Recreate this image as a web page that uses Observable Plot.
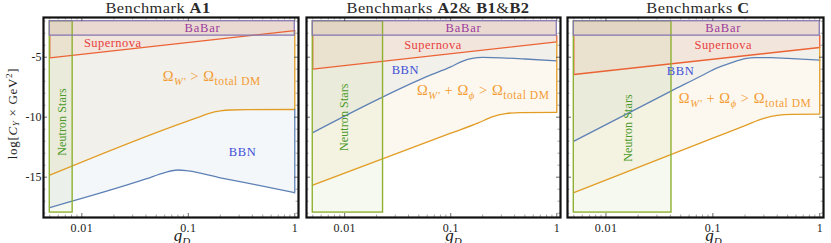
<!DOCTYPE html>
<html><head><meta charset="utf-8">
<script src="https://cdn.jsdelivr.net/npm/d3@7"></script>
<script src="https://cdn.jsdelivr.net/npm/@observablehq/plot@0.6"></script>
<style>
body{margin:0;background:#fff;}
#wrap{position:relative;width:831px;height:243px;overflow:hidden;font-family:"Liberation Serif",serif;}
.panel{position:absolute;top:0;}
.title{position:absolute;top:0px;font-size:14.5px;line-height:16px;white-space:nowrap;transform:translateX(-50%) scaleX(1.13);letter-spacing:0.4px;color:#2a2a2a;font-weight:normal;}
.title b{font-weight:bold;}
</style></head><body><div id="wrap"></div>
<script>
// ---------- data ----------
const xTickVals = [0.01, 0.1, 1];
const xTickLabels = ["0.01", "0.1", "1"];
const xMinorTicks = [0.005, 0.006, 0.007, 0.008, 0.009, 0.02, 0.03, 0.04, 0.05, 0.06, 0.07, 0.08, 0.09, 0.2, 0.3, 0.4, 0.5, 0.6, 0.7, 0.8, 0.9];
const yTickVals = [-5, -10, -15];
const yTickLabels = ["-5", "-10", "-15"];
const yMinorTicks = [-2, -3, -4, -6, -7, -8, -9, -11, -12, -13, -14, -16, -17, -18];

const babarG = [0.005, 1];
const babarY = [-3.2, -2];

// Benchmark A1
const a1SnG = [0.005, 1];
const a1SnY = [-5.05, -2.78];
const a1OmG = [0.005, 0.1, 0.13, 0.16, 0.2, 0.25, 0.35, 1];
const a1OmY = [-14.83, -10.3, -9.95, -9.65, -9.48, -9.4, -9.37, -9.36];
const a1BbG = [0.005, 0.04, 0.06, 0.08, 0.1, 0.2, 0.5, 1];
const a1BbY = [-17.53, -15.15, -14.62, -14.4, -14.48, -15.05, -15.75, -16.3];
const a1NsG = [0.005, 0.0082];
const a1NsY = [-17.95, -2];

// Benchmarks A2 & B1 & B2
const a2SnG = [0.005, 1];
const a2SnY = [-6.0, -3.72];
const a2OmG = [0.005, 0.1, 0.18, 0.25, 0.32, 0.45, 1];
const a2OmY = [-15.67, -11.33, -10.5, -9.95, -9.72, -9.62, -9.6];
const a2BbG = [0.005, 0.023, 0.06, 0.1, 0.13, 0.16, 0.2, 0.3, 0.5, 1];
const a2BbY = [-11.28, -8.3, -6.6, -5.8, -5.32, -5.1, -5.02, -5.05, -5.15, -5.3];
const a2NsG = [0.005, 0.023];
const a2NsY = [-17.95, -2];

// Benchmarks C
const cSnG = [0.005, 1];
const cSnY = [-6.44, -4.19];
const cOmG = [0.005, 0.1, 0.2, 0.3, 0.4, 0.55, 1];
const cOmY = [-16.28, -11.75, -10.7, -10.1, -9.85, -9.77, -9.75];
const cBbG = [0.005, 0.041, 0.08, 0.1, 0.15, 0.2, 0.25, 0.35, 0.5, 1];
const cBbY = [-12.0, -7.8, -6.5, -6.05, -5.45, -5.12, -5.03, -5.04, -5.1, -5.25];
const cNsG = [0.005, 0.041];
const cNsY = [-17.95, -2];

// ---------- layout / style ----------
const xDomain = [Math.pow(10, -2.36), Math.pow(10, 0.035)];
const yDomain = [-18.36, -1.69];
const H = 243, mT = 17, mB = 26;
const C = {blue: "#5E81B5", orange: "#E19C24", red: "#EB6235", green: "#8FB032", purple: "#8778B3",
  tBabar: "#9a3a9e", tSn: "#e8413c", tOm: "#f39c34", tBbn: "#3e4fd6", tNs: "#4c9a2a"};
const spacing = {BaBar: 0.8, Supernova: 0.45, BBN: 0.6, "Neutron Stars": 0.1, OMEGALABEL: 0.55, YLABEL: 0.7, "0.01": 0.4, "0.1": 0.4};

const panels = [
  {left: 0, width: 300, mL: 43, mR: 2, title: "Benchmark <b>A1</b>", titleX: 158, yAxis: true,
   sn: [a1SnG, a1SnY], om: [a1OmG, a1OmY], bb: [a1BbG, a1BbY], ns: [a1NsG, a1NsY],
   lab: {babar: [0.136, -2.6], sn: [0.0195, -3.8], bbn: [0.323, -12.9], ns: [0.0066, -10.4], om: [0.0575, -6.6]},
   omKind: 1, gdx: 11},
  {left: 302, width: 260, mL: 4, mR: 2, title: "Benchmarks <b>A2</b>&amp; <b>B1</b>&amp;<b>B2</b>", titleX: 437.5, yAxis: false,
   sn: [a2SnG, a2SnY], om: [a2OmG, a2OmY], bb: [a2BbG, a2BbY], ns: [a2NsG, a2NsY],
   lab: {babar: [0.132, -2.6], sn: [0.068, -3.95], bbn: [0.0374, -6.1], ns: [0.0098, -10.0], om: [0.048, -7.8]},
   omKind: 2, gdx: 20},
  {left: 563, width: 268, mL: 4, mR: 8, title: "Benchmarks <b>C</b>", titleX: 698, yAxis: false,
   sn: [cSnG, cSnY], om: [cOmG, cOmY], bb: [cBbG, cBbY], ns: [cNsG, cNsY],
   lab: {babar: [0.125, -2.6], sn: [0.125, -3.95], bbn: [0.0498, -6.17], ns: [0.0162, -10.9], om: [0.048, -8.45]},
   omKind: 2, gdx: 18}
];

const wrap = document.getElementById("wrap");
const pts = ([g, y]) => g.map((v, i) => ({g: v, y: y[i]}));
const last = a => a[a.length - 1];

function makePanel(p) {
  const fw = p.width - p.mL - p.mR, fh = H - mT - mB;
  const sn = pts(p.sn), om = pts(p.om), bb = pts(p.bb);
  const topY = babarY[1];
  const snEnd = last(p.sn[1]), omEnd = last(p.om[1]), bbEnd = last(p.bb[1]);
  const xr = last(babarG), xl = babarG[0];
  const marks = [
    Plot.areaY(bb, {x: "g", y1: "y", y2: () => topY, fill: C.blue, fillOpacity: 0.065, curve: "monotone-x"}),
    Plot.areaY(om, {x: "g", y1: "y", y2: () => topY, fill: C.orange, fillOpacity: 0.075, curve: "monotone-x"}),
    Plot.areaY(sn, {x: "g", y1: "y", y2: () => topY, fill: C.red, fillOpacity: 0.075}),
    Plot.rect([0], {x1: () => p.ns[0][0], x2: () => p.ns[0][1], y1: () => p.ns[1][0], y2: () => p.ns[1][1], fill: C.green, fillOpacity: 0.08}),
    Plot.rect([0], {x1: () => babarG[0], x2: () => babarG[1], y1: () => babarY[0], y2: () => babarY[1], fill: "#a0645a", fillOpacity: 0.09}),
    Plot.line(bb, {x: "g", y: "y", stroke: C.blue, strokeWidth: 1.3, curve: "monotone-x"}),
    Plot.line(om, {x: "g", y: "y", stroke: C.orange, strokeWidth: 1.3, curve: "monotone-x"}),
    Plot.line(sn, {x: "g", y: "y", stroke: C.red, strokeWidth: 1.3}),
    Plot.ruleX([xl], {y1: () => p.sn[1][0], y2: () => babarY[0], stroke: C.red, strokeWidth: 1.3}),
    Plot.ruleX([xr], {y1: () => omEnd, y2: () => snEnd, stroke: C.orange, strokeWidth: 1.3}),
  ];
  if (bbEnd < omEnd) marks.push(Plot.ruleX([xr], {y1: () => bbEnd, y2: () => omEnd, stroke: C.blue, strokeWidth: 1.3}));
  if (snEnd < babarY[0]) marks.push(Plot.ruleX([xr], {y1: () => snEnd, y2: () => babarY[0], stroke: C.red, strokeWidth: 1.3}));
  marks.push(
    Plot.rect([0], {x1: () => p.ns[0][0], x2: () => p.ns[0][1], y1: () => p.ns[1][0], y2: () => p.ns[1][1], stroke: C.green, strokeWidth: 1.4, fill: "none"}),
    Plot.rect([0], {x1: () => babarG[0], x2: () => babarG[1], y1: () => babarY[0], y2: () => babarY[1], stroke: C.purple, strokeWidth: 1.3, fill: "none"}),
    Plot.ruleX(xTickVals, {x: d => d, insetTop: fh - 4, stroke: "#444", strokeWidth: 0.8}),
    Plot.ruleX(xMinorTicks, {x: d => d, insetTop: fh - 2.5, stroke: "#666", strokeWidth: 0.6}),
    Plot.ruleX(xTickVals, {x: d => d, insetBottom: fh - 4, stroke: "#444", strokeWidth: 0.8}),
    Plot.ruleX(xMinorTicks, {x: d => d, insetBottom: fh - 2.5, stroke: "#666", strokeWidth: 0.6}),
    Plot.ruleY(yTickVals, {y: d => d, insetRight: fw - 4, stroke: "#444", strokeWidth: 0.8}),
    Plot.ruleY(yMinorTicks, {y: d => d, insetRight: fw - 2.5, stroke: "#666", strokeWidth: 0.6}),
    Plot.ruleY(yTickVals, {y: d => d, insetLeft: fw - 4, stroke: "#444", strokeWidth: 0.8}),
    Plot.ruleY(yMinorTicks, {y: d => d, insetLeft: fw - 2.5, stroke: "#666", strokeWidth: 0.6}),
    Plot.frame({stroke: "#111", strokeWidth: 2.2}),
    Plot.axisX(xTickVals, {tickSize: 0, tickPadding: 6, fontSize: 12, label: null, tickFormat: d => xTickLabels[xTickVals.indexOf(d)], fill: "#222"}),
    Plot.text(["GDLABEL"], {frameAnchor: "bottom", dy: 18, dx: p.gdx, fontSize: 17, fill: "#222", textAnchor: "middle", lineAnchor: "middle"}),
    Plot.text(["BaBar"], {x: () => p.lab.babar[0], y: () => p.lab.babar[1], fill: C.tBabar, fontSize: 12.5}),
    Plot.text(["Supernova"], {x: () => p.lab.sn[0], y: () => p.lab.sn[1], fill: C.tSn, fontSize: 12.5}),
    Plot.text(["BBN"], {x: () => p.lab.bbn[0], y: () => p.lab.bbn[1], fill: C.tBbn, fontSize: 12.5}),
    Plot.text(["Neutron Stars"], {x: () => p.lab.ns[0], y: () => p.lab.ns[1], fill: C.tNs, fontSize: 12, rotate: -90}),
    Plot.text(["OMEGALABEL"], {x: () => p.lab.om[0], y: () => p.lab.om[1], fill: C.tOm, fontSize: 14.5, textAnchor: "start"})
  );
  if (p.yAxis) {
    marks.push(
      Plot.axisY(yTickVals, {tickSize: 0, tickPadding: 2, fontSize: 12, label: null, tickFormat: d => yTickLabels[yTickVals.indexOf(d)], fill: "#222"}),
      Plot.text(["YLABEL"], {frameAnchor: "left", dx: -31, dy: -4, rotate: -90, fontSize: 13, fill: "#222", textAnchor: "middle"})
    );
  }
  const svg = Plot.plot({
    width: p.width, height: H, marginTop: mT, marginBottom: mB, marginLeft: p.mL, marginRight: p.mR,
    x: {type: "log", domain: xDomain, label: null},
    y: {domain: yDomain, label: null, axis: p.yAxis ? undefined : null},
    style: {fontFamily: "'Liberation Serif', serif", background: "transparent", overflow: "visible"},
    marks
  });
  const s = d3.select(svg);
  const sub = (t, it) => `<tspan font-size="${it ? 10.5 : 11.5}" ${it ? 'font-style="italic"' : ''} dy="3.5">${t}</tspan>`;
  const omHtml = p.omKind === 1
    ? 'Ω' + sub('W′', true) + '<tspan dy="-3.5"> &gt; Ω</tspan>' + sub('total DM', false)
    : 'Ω' + sub('W′', true) + '<tspan dy="-3.5"> + Ω</tspan>' + sub('ϕ', true) + '<tspan dy="-3.5"> &gt; Ω</tspan>' + sub('total DM', false);
  const repl = {
    OMEGALABEL: omHtml,
    GDLABEL: '<tspan font-style="italic">g</tspan><tspan font-size="11" font-style="italic" dy="4">D</tspan>',
    YLABEL: 'log[<tspan font-style="italic">C</tspan><tspan font-size="9" font-style="italic" dy="2">Y</tspan><tspan dy="-2"> × GeV</tspan><tspan font-size="9" dy="-4.5">2</tspan><tspan dy="4.5">]</tspan>'
  };
  s.selectAll("text").each(function () {
    const k = this.textContent;
    if (spacing[k] != null) this.setAttribute("letter-spacing", spacing[k]);
    if (repl[k]) this.innerHTML = repl[k];
  });
  const div = document.createElement("div");
  div.className = "panel";
  div.style.left = p.left + "px";
  div.appendChild(svg);
  wrap.appendChild(div);
  const t = document.createElement("div");
  t.className = "title";
  t.style.left = p.titleX + "px";
  t.innerHTML = p.title;
  wrap.appendChild(t);
}
panels.forEach(makePanel);
</script></body></html>
